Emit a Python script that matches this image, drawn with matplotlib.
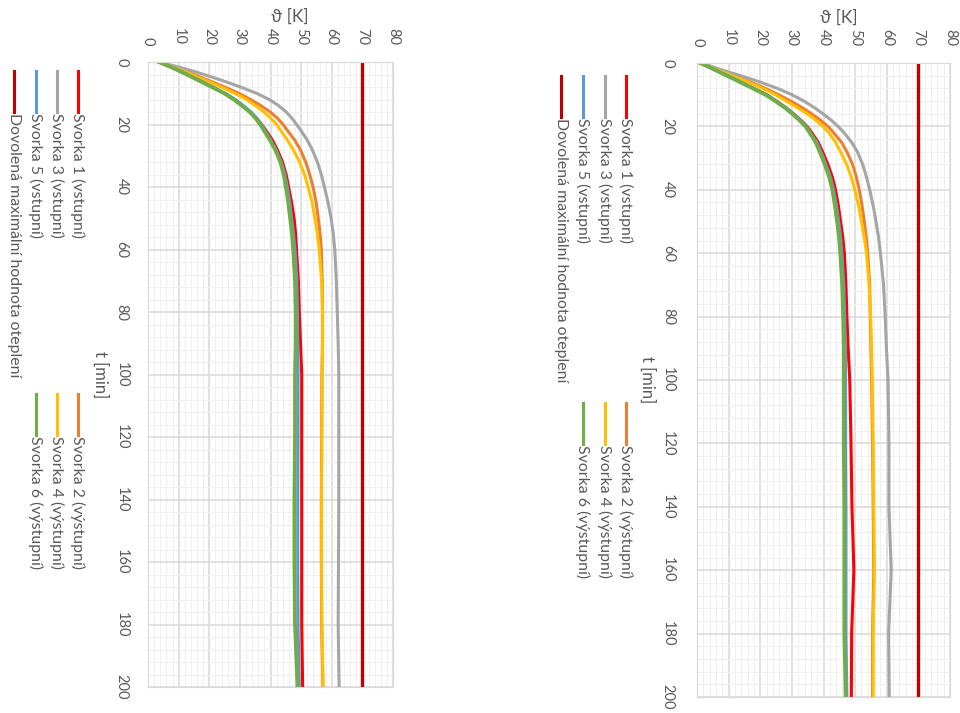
import numpy as np
import matplotlib
matplotlib.use('Agg')
import matplotlib.pyplot as plt
from matplotlib.lines import Line2D

plt.rcParams.update({'font.family': ['Lato', 'DejaVu Sans'], 'font.size': 11,
                     'text.color': '#595959'})

# time axis [min]
t = [0, 1, 2, 3, 4, 6, 8, 10, 12, 14, 16, 18, 20, 22, 25, 28, 32, 36, 40, 45,
     50, 55, 60, 70, 80, 90, 100, 120, 140, 160, 180, 200]

# left chart, temperature rise [K]
a_sv1 = [3.5, 6.0, 8.4, 10.7, 12.8, 16.9, 21.0, 25.0, 28.3, 31.0, 33.5, 35.5, 37.1, 38.6, 40.6, 42.2,
         43.9, 45.1, 45.9, 46.9, 47.7, 48.2, 48.5, 49.1, 49.4, 49.8, 50.2, 50.2, 50.2, 50.2, 50.2, 50.5]
a_sv2 = [3.5, 6.7, 9.5, 12.3, 15.0, 20.0, 25.0, 29.6, 33.5, 36.9, 39.9, 42.3, 44.1, 45.6, 47.9, 49.7,
         51.5, 52.8, 53.9, 54.9, 55.6, 56.2, 56.6, 56.9, 57.0, 57.0, 56.8, 56.7, 56.6, 56.6, 56.7, 57.1]
a_sv3 = [3.5, 7.6, 11.4, 15.0, 18.3, 24.5, 30.2, 35.4, 39.6, 42.7, 45.1, 47.0, 48.5, 50.0, 52.0, 53.6,
         55.3, 56.6, 57.6, 58.8, 59.8, 60.5, 61.0, 61.5, 61.8, 62.1, 62.3, 62.3, 62.3, 62.2, 62.1, 62.4]
a_sv4 = [3.5, 6.5, 9.2, 11.9, 14.3, 19.0, 23.9, 28.3, 32.2, 35.1, 37.9, 40.1, 42.0, 43.4, 45.5, 47.4,
         49.5, 51.1, 52.3, 53.6, 54.5, 55.3, 55.9, 56.7, 57.0, 57.0, 56.9, 56.8, 56.7, 56.7, 56.8, 57.2]
a_sv5 = [3.5, 6.2, 8.6, 10.9, 13.0, 17.1, 21.2, 25.2, 28.5, 31.2, 33.6, 35.5, 37.0, 38.3, 40.1, 41.8,
         43.5, 44.7, 45.5, 46.3, 46.9, 47.5, 48.0, 48.6, 48.8, 48.9, 49.0, 49.0, 48.9, 48.9, 49.0, 49.4]
a_sv6 = [3.5, 6.0, 8.3, 10.5, 12.6, 16.7, 20.8, 24.8, 28.0, 30.7, 33.2, 35.1, 36.6, 37.9, 39.8, 41.5,
         43.2, 44.3, 45.0, 45.8, 46.4, 47.0, 47.4, 48.0, 48.2, 48.2, 48.0, 48.0, 47.8, 47.8, 48.0, 48.8]

# right chart, temperature rise [K]
b_sv1 = [1.0, 3.2, 5.3, 7.4, 9.6, 13.7, 17.9, 22.0, 25.1, 28.0, 30.5, 32.8, 34.8, 36.3, 38.3, 39.7,
         41.4, 42.8, 43.8, 44.7, 45.4, 46.1, 46.6, 47.1, 47.4, 47.8, 48.3, 48.7, 49.0, 49.6, 48.9, 48.8]
b_sv2 = [1.0, 3.8, 6.4, 9.0, 11.6, 16.8, 21.6, 25.8, 29.6, 33.1, 36.2, 39.0, 41.4, 43.2, 45.7, 47.4,
         49.2, 50.4, 51.3, 52.2, 52.9, 53.5, 54.0, 54.6, 54.8, 55.0, 55.2, 55.5, 55.7, 55.9, 55.5, 55.5]
b_sv3 = [1.0, 4.4, 7.3, 10.5, 13.8, 19.9, 25.4, 30.0, 33.8, 37.0, 39.8, 42.4, 44.6, 46.5, 48.9, 50.7,
         52.4, 53.6, 54.6, 55.7, 56.6, 57.4, 58.0, 59.0, 59.5, 59.9, 60.4, 60.7, 60.7, 61.4, 60.6, 60.8]
b_sv4 = [1.0, 3.6, 6.0, 8.6, 11.1, 16.1, 20.7, 24.8, 28.2, 31.6, 34.8, 37.5, 39.8, 41.7, 43.8, 45.4,
         47.3, 48.8, 49.9, 51.1, 52.0, 52.9, 53.6, 54.4, 54.9, 55.2, 55.4, 55.7, 55.9, 56.1, 55.7, 55.7]
b_sv5 = [1.0, 3.3, 5.5, 7.6, 9.8, 13.9, 18.0, 22.0, 25.1, 28.0, 30.5, 32.6, 34.6, 35.9, 37.9, 39.2,
         40.8, 42.2, 43.2, 44.1, 44.8, 45.4, 45.8, 46.4, 46.7, 46.9, 47.0, 47.0, 47.1, 47.1, 47.1, 47.4]
b_sv6 = [1.0, 3.2, 5.3, 7.4, 9.5, 13.5, 17.6, 21.6, 24.7, 27.6, 30.1, 32.3, 34.3, 35.6, 37.5, 38.8,
         40.4, 41.8, 42.8, 43.6, 44.3, 44.9, 45.3, 45.9, 46.2, 46.4, 46.4, 46.4, 46.6, 46.6, 46.6, 47.0]

limit = 70

names = ['Svorka 1 (vstupní)', 'Svorka 2 (výstupní)', 'Svorka 3 (vstupní)',
         'Svorka 4 (výstupní)', 'Svorka 5 (vstupní)', 'Svorka 6 (výstupní)',
         'Dovolená maximální hodnota oteplení']
colors = ['#FF0000', '#ED7D31', '#A5A5A5', '#FFC000', '#5B9BD5', '#70AD47', '#C00000']

theta_ticks = list(range(0, 81, 10))
t_ticks = list(range(0, 201, 20))

W, H = 960, 713
fig = plt.figure(figsize=(W / 100, H / 100), dpi=100)


def rect(x0, y0, x1, y1):
    return [x0 / W, 1 - y1 / H, (x1 - x0) / W, (y1 - y0) / H]


def panel(box, series, xpad, ypad, title_x, tlab_x):
    ax = fig.add_axes(box)
    for vals, c in zip(series, colors[:6]):
        ax.plot(vals, t, color=c, lw=2.7 if c == '#70AD47' else 2.2,
                solid_joinstyle='round')
    ax.plot([limit, limit], [t[0], t[-1]], color=colors[6], lw=2.4)
    ax.set_xlim(0, 80)
    ax.set_ylim(200, 0)
    ax.set_xticks(theta_ticks)
    ax.set_yticks(t_ticks)
    ax.set_xticks(np.arange(0, 81, 2), minor=True)
    ax.set_yticks(np.arange(0, 201, 4), minor=True)
    ax.xaxis.tick_top()
    ax.tick_params(which='both', length=0, labelcolor='#595959', labelsize=10.5)
    ax.tick_params(axis='x', pad=xpad, labelrotation=-90)
    ax.tick_params(axis='y', pad=ypad)
    for lbl in ax.get_xticklabels():
        lbl.set_va('bottom')
    for lbl in ax.get_yticklabels():
        lbl.set_rotation(-90)
        lbl.set_va('center')
        lbl.set_ha('right')
    ax.grid(which='major', color='#D9D9D9', lw=1.1)
    ax.grid(which='minor', color='#F0F0F0', lw=0.8)
    ax.set_axisbelow(True)
    for s in ax.spines.values():
        s.set_color('#D9D9D9')
    ax.xaxis.set_label_position('top')
    ax.set_xlabel('ϑ [K]', fontsize=12.5, color='#595959')
    ax.xaxis.label.set_va('center')
    ax.xaxis.set_label_coords(title_x, 1.072)
    ax.set_ylabel('t [min]', fontsize=12, color='#595959', rotation=-90, va='center', ha='center')
    ax.yaxis.set_label_coords(tlab_x, 0.5)
    return ax


panel(rect(148, 62, 393, 687), [a_sv1, a_sv2, a_sv3, a_sv4, a_sv5, a_sv6], 12, 14, 0.58, -0.196)
panel(rect(697, 63, 950, 697), [b_sv1, b_sv2, b_sv3, b_sv4, b_sv5, b_sv6], 12, 16, 0.56, -0.198)


def legend(cols, top_y, bottom_y):
    # legend rows of the unrotated chart become columns from right to left
    order = [(0, cols[0], top_y), (1, cols[0], bottom_y),
             (2, cols[1], top_y), (3, cols[1], bottom_y),
             (4, cols[2], top_y), (5, cols[2], bottom_y),
             (6, cols[3], top_y)]
    for i, x, y in order:
        fig.add_artist(Line2D([x / W, x / W], [1 - y / H, 1 - (y + 41) / H],
                              color=colors[i], lw=2.2, transform=fig.transFigure))
        fig.text(x / W, 1 - (y + 42) / H, names[i], rotation=-90, ha='center', va='top',
                 fontsize=11.4, color='#595959')


legend([78, 57, 36, 14], 71, 394)
legend([626, 605, 583, 561], 76, 403)

fig.savefig('out.png', dpi=100)
